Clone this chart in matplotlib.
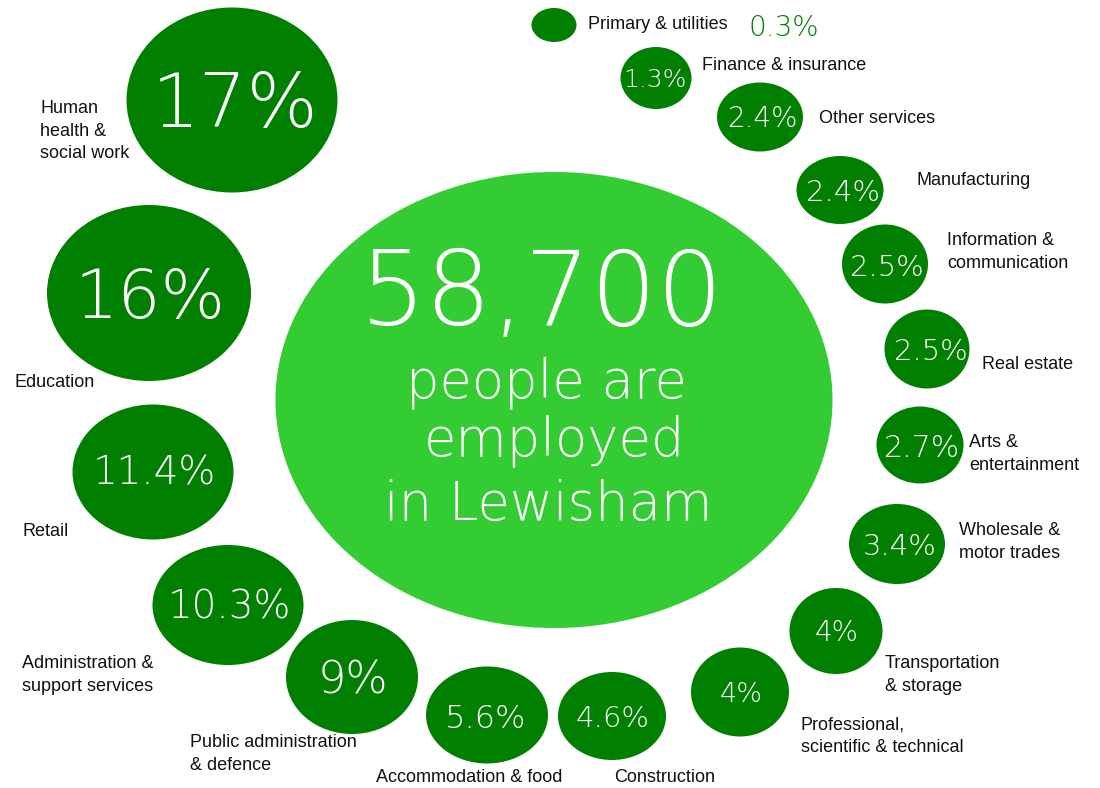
import matplotlib.pyplot as plt
from matplotlib.patches import Ellipse

# employment share by sector
sectors = ["Human\nhealth &\nsocial work", "Education", "Retail",
           "Administration &\nsupport services", "Public administration\n& defence",
           "Accommodation & food", "Construction", "Professional,\nscientific & technical",
           "Transportation\n& storage", "Wholesale &\nmotor trades", "Arts &\nentertainment",
           "Real estate", "Information &\ncommunication", "Manufacturing",
           "Other services", "Finance & insurance", "Primary & utilities"]
shares = [17, 16, 11.4, 10.3, 9, 5.6, 4.6, 4, 4, 3.4, 2.7, 2.5, 2.5, 2.4, 2.4, 1.3, 0.3]
total_employed = 58700
headline = ["people are", "employed", "in Lewisham"]

# layout in pixel units (x right, y down)
cx = [232, 149, 153, 228, 352, 487, 612, 740, 836, 897, 920, 927, 885, 840, 760, 656, 554]
cy = [100, 293, 472, 605, 677, 715, 716, 692, 631, 544, 445, 349, 264, 190, 117, 78, 25]
ew = [211, 204, 161, 151, 132, 122, 108, 98, 93, 96, 87, 85, 86, 87, 86, 71, 45]
eh = [185, 176, 135, 120, 114, 97, 88, 89, 86, 80, 77, 79, 79, 68, 69, 62, 34]
tx = [235, 150, 154, 229, 353, 485, 613, 741, 837, 900, 922, 931, 887, 843, 762, 655, 784]
ty = [100, 293, 470, 604, 677, 716, 716, 692, 631, 544, 446, 349, 265, 190, 117, 78, 26]
pct_size = [54, 49, 28, 28, 32, 23, 21, 19.5, 20, 21, 21.5, 21, 21, 21, 20, 18, 20]
lab_x = [40, 14, 22, 22, 190, 376, 614, 801, 885, 959, 969, 982, 947, 916, 819, 702, 588]
lab_y = [131, 382, 532, 675, 754, 777, 777, 736, 675, 542, 454, 364, 252, 180, 118, 65, 24]

dark = "#007f00"
light = "#33cc33"
pct_font = ["DejaVu Sans"]
lab_font = ["Liberation Sans", "DejaVu Sans"]
CAP = 0.729  # cap height of the number font, in em


def centred_num(x, y, s, size, color):
    # place digits so their cap height is centred on y
    base = y + CAP * size * 100 / 72 / 2
    ax.text(x, base, s, color=color, fontsize=size, family=pct_font,
            weight=200, ha="center", va="baseline")


fig = plt.figure(figsize=(11, 7.88), dpi=100)
ax = fig.add_axes([0, 0, 1, 1])
ax.set_xlim(0, 1100)
ax.set_ylim(788, 0)
ax.axis("off")

# central total
ax.add_patch(Ellipse((554, 400), 557, 456, color=light, lw=0))
ax.text(542, 325, f"{total_employed:,}", color="white", fontsize=75,
        family=pct_font, weight=200, ha="center", va="baseline")
for line, base, x in zip(headline, [397, 455, 520], [546, 555, 548]):
    ax.text(x, base, line, color="white", fontsize=38, family=pct_font,
            weight=200, ha="center", va="baseline")

for i, (name, val) in enumerate(zip(sectors, shares)):
    ax.add_patch(Ellipse((cx[i], cy[i]), ew[i], eh[i], color=dark, lw=0))
    # the smallest bubble is too small to hold its value, so it sits outside
    col = "white" if val >= 1 else dark
    centred_num(tx[i], ty[i], f"{val:g}%", pct_size[i], col)
    ax.text(lab_x[i], lab_y[i], name, color="#111111", fontsize=13,
            family=lab_font, ha="left", va="center", linespacing=1.45)

fig.savefig("out.png", dpi=100, facecolor="white")
